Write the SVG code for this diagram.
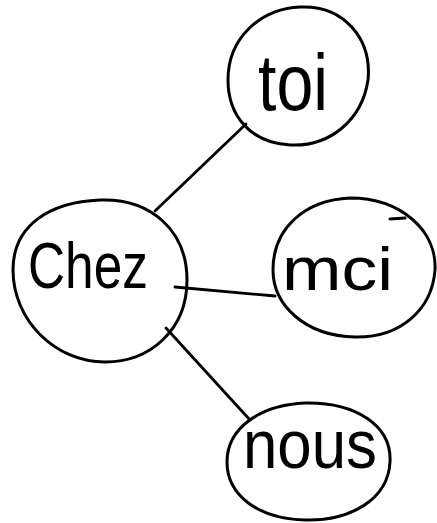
<svg xmlns="http://www.w3.org/2000/svg" width="437" height="523" viewBox="0 0 437 523">
<style>
.blob{fill:none;stroke:#000;stroke-width:3;stroke-linecap:round;stroke-linejoin:round}
.edge{fill:none;stroke:#000;stroke-width:2.8;stroke-linecap:round}
.lbl{font-family:"Liberation Sans","DejaVu Sans",sans-serif;fill:#000}
</style>
<rect width="437" height="523" fill="#fff"/>
<g id="connectors">
<line class="edge" x1="155" y1="211" x2="246" y2="124"/>
<line class="edge" x1="175" y1="287" x2="275" y2="296"/>
<line class="edge" x1="166" y1="328" x2="250" y2="420"/>
</g>
<g id="chez">
<path class="blob" d="M100,200 C150,198 187,230 187,280 C187,330 150,362 105,362 C55,362 13,320 13,270 C13,225 50,202 100,200 Z"/>
<text class="lbl" x="28" y="288" font-size="64" textLength="120" lengthAdjust="spacingAndGlyphs">Chez</text>
</g>
<g id="toi">
<path class="blob" d="M300,7 C345,5 372,40 368,80 C362,120 330,147 290,145 C250,143 228,115 228,80 C228,38 260,9 300,7 Z"/>
<text class="lbl" x="258" y="110" font-size="80" textLength="70" lengthAdjust="spacingAndGlyphs">toi</text>
</g>
<g id="mci">
<path class="blob" d="M350,198 C400,198 437,230 435,270 C432,310 400,338 355,337 C305,336 273,305 273,270 C273,228 305,200 350,198 Z"/>
<line class="blob" x1="390" y1="219" x2="405" y2="218"/>
<text class="lbl" x="282" y="290" font-size="62" textLength="111" lengthAdjust="spacingAndGlyphs">mci</text>
</g>
<g id="nous">
<path class="blob" d="M305,403 C355,402 392,425 390,462 C388,500 350,521 305,520 C258,519 227,495 227,462 C227,428 260,405 305,403 Z"/>
<text class="lbl" x="243" y="468" font-size="68" textLength="134" lengthAdjust="spacingAndGlyphs">nous</text>
</g>
</svg>
